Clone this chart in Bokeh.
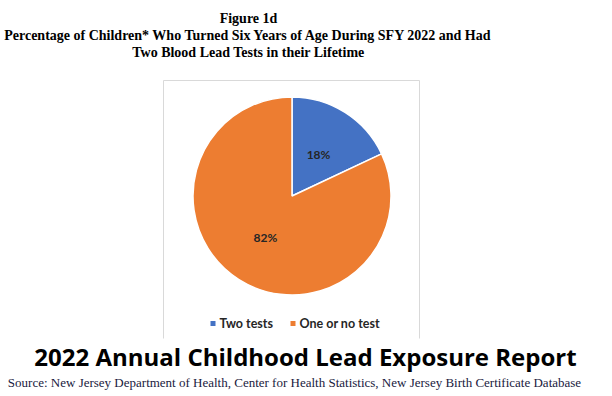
import math
from bokeh.plotting import figure
from bokeh.models import Range1d
from bokeh.core.properties import value
from bokeh.embed import file_html
from bokeh.resources import INLINE

# ---- data ----
categories = ["Two tests", "One or no test"]
percents = [18, 82]
colors = ["#4472C4", "#ED7D31"]
title_lines = [
    "Figure 1d",
    "Percentage of Children* Who Turned Six Years of Age During SFY 2022 and Had",
    "Two Blood Lead Tests in their Lifetime",
]
report_title = "2022 Annual Childhood Lead Exposure Report"
source_text = "Source: New Jersey Department of Health, Center for Health Statistics, New Jersey Birth Certificate Database"

W, H = 612, 396
p = figure(width=W, height=H, output_backend="svg", toolbar_location=None,
           x_range=Range1d(0, W), y_range=Range1d(0, H),
           min_border=0, outline_line_color=None)
p.axis.visible = False
p.grid.visible = False
p.background_fill_color = "white"
p.border_fill_color = "white"

def Y(wy):
    return H - wy

# chart frame (no bottom edge visible)
p.line([163, 163, 419, 419], [Y(338), Y(80), Y(80), Y(338)], line_color="#D9D9D9", line_width=1)

# pie
cx, cy, r = 291.5, Y(195.5), 99
total = sum(percents)
cum = 0.0
for pct, col in zip(percents, colors):
    a0 = math.pi / 2 - 2 * math.pi * (cum + pct) / total
    a1 = math.pi / 2 - 2 * math.pi * cum / total
    p.wedge(x=cx, y=cy, radius=r, start_angle=a0, end_angle=a1,
            direction="anticlock", fill_color=col, line_color="white", line_width=1.5)
    mid = (a0 + a1) / 2
    p.text(x=[cx + 0.5 * r * math.cos(mid)], y=[cy + 0.5 * r * math.sin(mid)],
           text=[f"{pct}%"], text_align="center", text_baseline="middle",
           text_font=value("Lato"), text_font_style="bold", text_font_size="12px",
           text_color="#262626")
    cum += pct

# legend
leg_x = [210, 290]
leg_y = Y(323)
for lx, cat, col in zip(leg_x, categories, colors):
    p.rect(x=[lx + 2.5], y=[leg_y], width=5, height=5, fill_color=col, line_color=None)
    p.text(x=[lx + 9], y=[leg_y], text=[cat], text_align="left", text_baseline="middle",
           text_font=value("Lato"), text_font_style="bold", text_font_size="12.5px",
           text_color="#262626")

# titles
for i, line in enumerate(title_lines):
    p.text(x=[248], y=[Y(18 + 17 * i)], text=[line], text_align="center", text_baseline="middle",
           text_font=value("Liberation Serif"), text_font_style="bold", text_font_size="14px",
           text_color="black")

p.text(x=[305], y=[Y(356)], text=[report_title], text_align="center", text_baseline="middle",
       text_font=value("Open Sans"), text_font_style="bold", text_font_size="24px", text_color="black")

p.text(x=[294], y=[Y(382)], text=[source_text], text_align="center", text_baseline="middle",
       text_font=value("Liberation Serif"), text_font_size="13px", text_color="#1A1A40")

open("out.html", "w").write(file_html(p, INLINE))
